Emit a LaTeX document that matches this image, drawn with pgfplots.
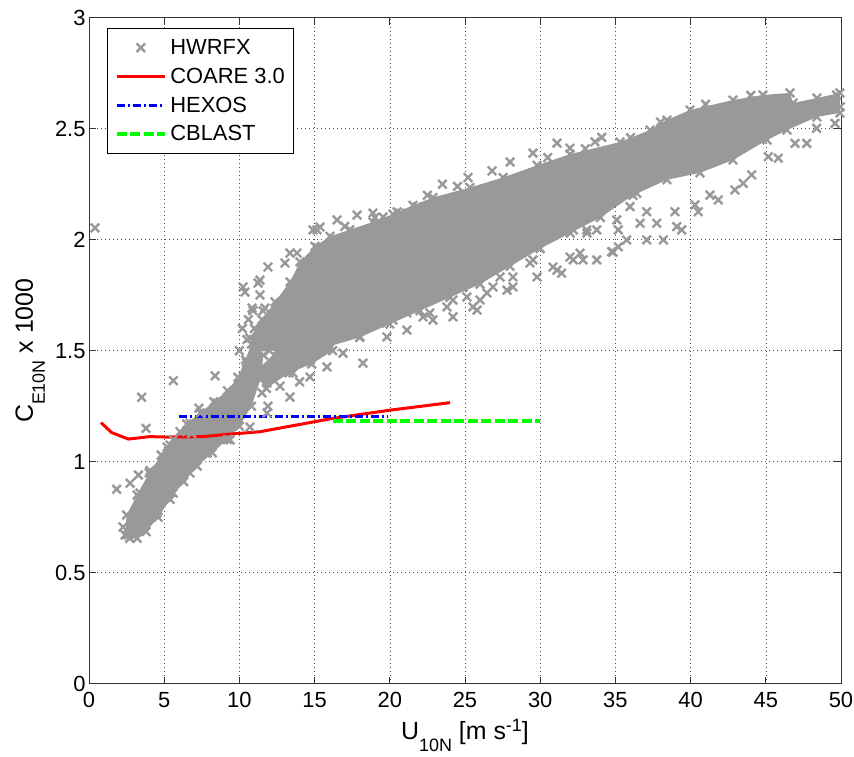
\documentclass[border=0pt]{standalone}
\usepackage{fontspec}
\setmainfont{Liberation Sans}
\usepackage{pgfplots}
\usepackage{pgfplotstable}
\pgfplotsset{compat=1.18}
\definecolor{mgray}{RGB}{153,153,153}
\definecolor{mgreen}{RGB}{0,255,0}

\pgfplotstableread{
x y
10.70 1.557
11.50 1.640
12.37 1.720
13.36 1.810
14.03 1.900
15.03 1.970
16.02 2.015
17.35 2.045
18.88 2.080
20.21 2.115
21.54 2.155
22.87 2.190
25.33 2.235
27.53 2.280
29.79 2.335
31.98 2.385
35.31 2.440
37.30 2.494
38.43 2.539
39.96 2.584
42.82 2.629
44.81 2.652
46.61 2.661
46.81 2.616
48.40 2.638
49.93 2.661
49.93 2.571
48.40 2.553
46.41 2.494
45.08 2.449
42.82 2.359
40.62 2.301
38.43 2.270
36.17 2.200
34.00 2.100
32.00 2.030
30.00 1.960
28.00 1.880
26.00 1.800
24.00 1.740
22.00 1.680
20.00 1.620
18.00 1.560
16.00 1.520
14.50 1.500
13.00 1.500
12.00 1.500
11.04 1.494
}\coretable

\pgfplotstableread{
x y
2.40 0.670
2.50 0.760
3.20 0.850
4.00 0.950
4.80 1.030
5.60 1.100
6.50 1.170
7.40 1.220
8.30 1.270
9.20 1.320
9.90 1.380
10.40 1.460
10.80 1.530
11.60 1.480
11.40 1.370
10.80 1.250
10.00 1.160
9.20 1.100
8.20 1.040
7.20 0.980
6.30 0.910
5.40 0.830
4.60 0.750
3.80 0.685
3.20 0.655
2.70 0.655
}\tailtable

\pgfplotstableread{
x y
11.0 1.40
12.5 1.50
14.0 1.55
15.5 1.58
16.5 1.60
16.2 1.50
14.8 1.44
13.3 1.40
11.8 1.33
}\branchtable

\pgfplotstableread{
x y
0.40 2.053
1.84 0.876
2.73 0.903
3.28 0.940
3.50 1.290
3.79 1.150
5.61 1.365
8.38 1.387
7.31 1.241
8.56 1.236
5.39 1.075
6.05 1.135
6.83 1.128
10.49 1.450
10.26 1.383
2.26 0.706
3.39 0.859
4.06 0.960
5.19 1.066
6.72 1.174
8.51 1.264
10.04 1.337
4.52 0.769
5.59 0.859
6.72 0.949
7.85 1.039
9.38 1.098
10.70 1.156
11.84 1.219
13.36 1.291
2.60 0.670
3.00 0.680
2.90 0.720
3.60 0.720
11.50 1.310
12.70 1.340
14.00 1.360
11.90 1.250
10.37 1.764
11.24 1.805
11.90 1.877
13.03 1.895
13.83 1.940
15.16 2.044
16.49 2.089
17.82 2.111
18.88 2.120
20.68 2.120
11.37 1.818
11.37 1.751
11.70 1.692
10.84 1.692
13.36 1.940
14.89 2.044
15.36 2.057
19.55 2.102
20.48 2.125
21.81 2.147
10.24 1.787
10.90 1.680
11.57 1.680
10.50 1.550
10.20 1.600
10.60 1.640
11.00 1.600
10.00 1.500
17.00 2.060
19.00 2.100
22.50 2.200
24.50 2.240
30.50 2.370
33.00 2.410
36.00 2.460
38.00 2.530
41.00 2.610
44.00 2.650
23.50 2.250
25.20 2.280
26.80 2.310
28.00 2.350
29.52 2.390
31.12 2.435
31.98 2.412
33.64 2.441
34.09 2.461
18.22 1.444
16.89 1.489
15.82 1.427
14.69 1.382
13.56 1.400
12.90 1.427
11.84 1.355
10.70 1.323
10.04 1.264
19.81 1.562
21.14 1.593
22.87 1.638
24.20 1.652
25.53 1.697
26.86 1.787
28.19 1.832
29.52 1.909
31.12 1.863
31.98 1.922
32.85 1.909
29.32 1.895
27.33 1.832
26.46 1.760
25.13 1.742
24.20 1.728
22.21 1.652
21.14 1.670
20.21 1.638
19.35 1.625
18.02 1.562
16.69 1.562
15.36 1.535
14.49 1.503
13.36 1.472
12.50 1.445
11.37 1.413
10.37 1.382
10.51 1.445
10.90 1.503
34.84 1.944
30.85 1.877
29.79 1.832
28.19 1.787
27.79 1.773
26.00 1.728
24.87 1.787
25.80 1.683
22.67 1.670
23.80 1.697
27.13 1.909
28.66 1.999
31.32 2.058
33.11 2.030
36.42 2.209
35.97 2.149
37.08 2.126
36.64 2.074
37.75 2.074
35.09 2.089
35.19 2.044
35.75 1.999
33.76 2.044
33.09 2.044
32.20 2.044
31.54 2.059
32.65 1.939
32.20 1.909
33.76 1.909
34.75 1.946
35.19 1.968
31.43 1.849
37.08 1.999
38.19 1.999
38.96 2.126
39.08 2.059
39.41 2.044
40.29 2.157
40.51 2.126
41.29 2.201
41.84 2.179
42.95 2.224
43.50 2.254
44.06 2.292
45.17 2.374
45.83 2.367
46.94 2.434
47.72 2.434
48.38 2.502
49.60 2.524
49.71 2.652
49.95 2.599
}\scattertable

\begin{document}
\begin{tikzpicture}
\path[use as bounding box] (-89bp,-73.3bp) rectangle (765bp,683.7bp);
\begin{axis}[
  at={(0,0)}, anchor=south west,
  scale only axis, width=752bp, height=666bp,
  xmin=0, xmax=50, ymin=0, ymax=3,
  xtick={0,5,...,50}, ytick={0,0.5,1,1.5,2,2.5,3},
  grid=major,
  grid style={line width=0.6bp, black!70, dash pattern=on 1bp off 3bp},
  tick align=inside, major tick length=7bp,
  xtick pos=both, ytick pos=both,
  axis line style={black!80, line width=0.8bp},
  tick style={black!80, line width=0.8bp},
  ticklabel style={font=\fontsize{22}{26}\selectfont},
  /pgf/number format/assume math mode=true,
  xticklabel style={yshift=-5bp},
  label style={font=\fontsize{25}{30}\selectfont},
  xlabel={U\raisebox{-12bp}{\fontsize{18}{20}\selectfont 10N} [m s\raisebox{8bp}{\fontsize{18}{20}\selectfont -1}]},
  xlabel style={at={(axis description cs:0.5,-0.0845)}, anchor=base},
  ylabel={C\raisebox{-12bp}{\fontsize{18}{20}\selectfont E10N} x 1000},
  ylabel style={at={(axis description cs:-0.0745,0.5)}, anchor=base, rotate=0},
  clip=false,
  legend cell align=left,
  legend style={at={(axis description cs:0.0239,0.9845)}, anchor=north west,
    draw=black, line width=0.8bp, fill=white,
    font=\fontsize{22}{26}\selectfont,
    inner xsep=7.5bp, inner ysep=5bp,
    nodes={inner xsep=1.5bp, inner ysep=6bp},
    column sep=2bp},
  legend image code/.code={\draw[mark repeat=2,mark phase=2,#1] plot coordinates {(0bp,0bp) (24bp,0bp) (48bp,0bp)};},
]
\addplot[fill=mgray, draw=none, forget plot] table {\coretable};
\addplot[fill=mgray, draw=none, forget plot] table {\tailtable};
\addplot[fill=mgray, draw=none, forget plot] table {\branchtable};
\addplot[only marks, mark=x, mark size=6bp, mgray, line width=2.4bp, forget plot] table {\coretable};
\addplot[only marks, mark=x, mark size=6bp, mgray, line width=2.4bp, forget plot] table {\tailtable};
\addplot[only marks, mark=x, mark size=6bp, mgray, line width=2.4bp, forget plot] table {\branchtable};
\addplot[only marks, mark=x, mark size=6bp, mgray, line width=2.4bp] table {\scattertable};
\addlegendentry{HWRFX}
\addplot[red, line width=3bp, line join=round] coordinates {
 (0.80,1.176) (1.51,1.131) (2.61,1.102) (4.06,1.113) (5.17,1.111)
 (7.58,1.113) (9.16,1.123) (11.37,1.135) (16.2,1.195) (20.0,1.232) (24.0,1.266)};
\addlegendentry{COARE 3.0}
\addplot[blue, line width=3bp, dash pattern=on 8bp off 3bp on 2bp off 3bp] coordinates {(6.0,1.205) (19.9,1.205)};
\addlegendentry{HEXOS}
\addplot[mgreen, line width=4bp, dash pattern=on 10bp off 3.5bp] coordinates {(16.2,1.183) (30.0,1.183)};
\addlegendentry{CBLAST}
\end{axis}
\end{tikzpicture}
\end{document}
